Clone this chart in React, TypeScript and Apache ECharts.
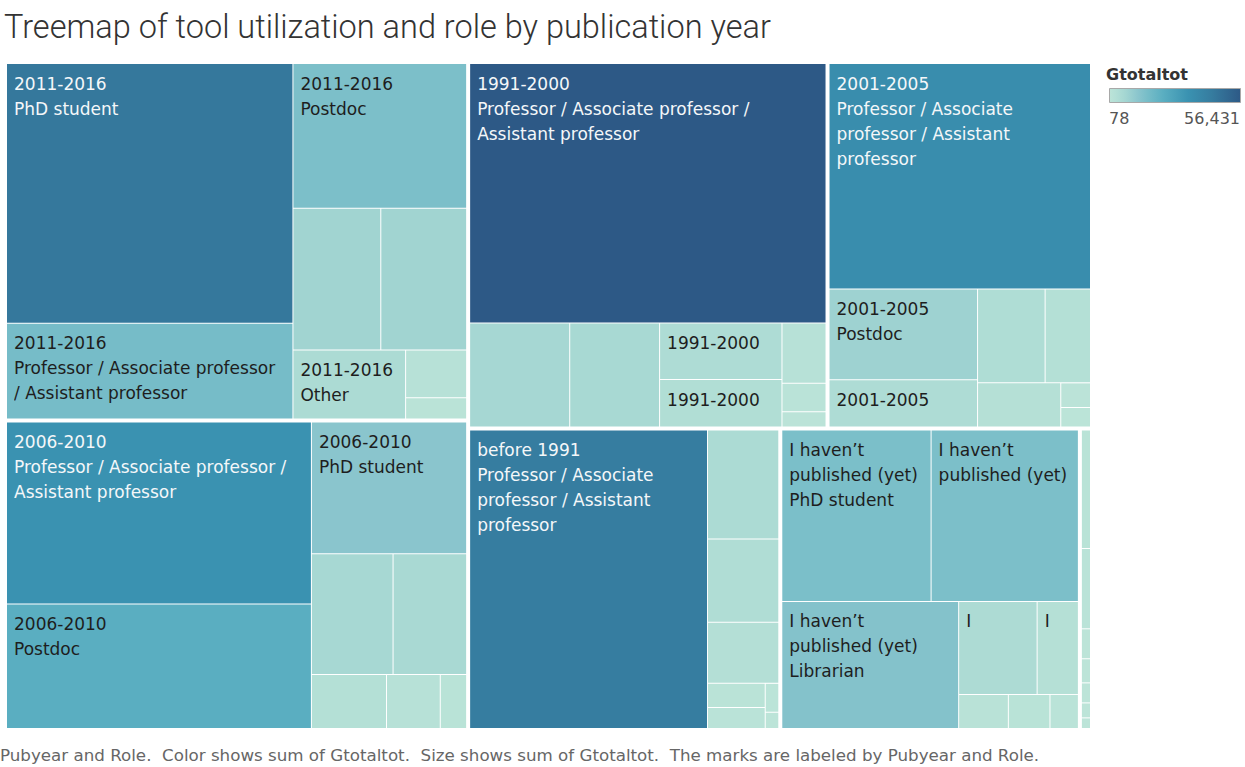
import React, { useEffect, useRef } from 'react';
import * as echarts from 'echarts';

// ---- Data ----
const pubyears = ['2011-2016', '2006-2010', '1991-2000', '2001-2005', 'before 1991', 'I haven’t published (yet)', 'Other years'];

const roles2011 = ['PhD student', 'Professor / Associate professor / Assistant professor', 'Postdoc', 'Librarian', 'Master student', 'Other', 'Industry', 'Bachelor student'];
const values2011 = [45329, 16691, 15305, 7588, 7414, 4738, 1773, 793];
const labels2011 = ['2011-2016\nPhD student', '2011-2016\nProfessor / Associate professor\n/ Assistant professor', '2011-2016\nPostdoc', '', '', '2011-2016\nOther', '', ''];

const roles2006 = ['Professor / Associate professor / Assistant professor', 'Postdoc', 'PhD student', 'Librarian', 'Other', 'Industry', 'Master student', 'Publisher'];
const values2006 = [33817, 23167, 12465, 6014, 5420, 2472, 1770, 868];
const labels2006 = ['2006-2010\nProfessor / Associate professor /\nAssistant professor', '2006-2010\nPostdoc', '2006-2010\nPhD student', '', '', '', '', ''];

const roles1991 = ['Professor / Associate professor / Assistant professor', 'Librarian', 'Other', 'Postdoc', 'Industry', 'Publisher', 'PhD student', 'Funder'];
const values1991 = [56431, 6346, 5699, 4219, 3541, 1616, 767, 411];
const labels1991 = ['1991-2000\nProfessor / Associate professor /\nAssistant professor', '', '', '1991-2000', '1991-2000', '', '', ''];

const roles2001 = ['Professor / Associate professor / Assistant professor', 'Postdoc', 'Librarian', 'Other', 'Industry', 'PhD student', 'Publisher', 'Funder'];
const values2001 = [36080, 8238, 4302, 3880, 2606, 2247, 448, 355];
const labels2001 = ['2001-2005\nProfessor / Associate\nprofessor / Assistant\nprofessor', '2001-2005\nPostdoc', '2001-2005', '', '', '', '', ''];

const rolesB1991 = ['Professor / Associate professor / Assistant professor', 'Librarian', 'Other', 'Industry', 'Postdoc', 'Publisher', 'Funder', 'PhD student'];
const valuesB1991 = [43450, 4750, 3640, 2660, 850, 745, 240, 135];
const labelsB1991 = ['before 1991\nProfessor / Associate\nprofessor / Assistant\nprofessor', '', '', '', '', '', '', ''];

const rolesNone = ['PhD student', 'Master student', 'Librarian', 'Industry', 'Other', 'Bachelor student', 'Publisher', 'Funder'];
const valuesNone = [15667, 15455, 13760, 4468, 2349, 1037, 868, 593];
const labelsNone = ['I haven’t\npublished (yet)\nPhD student', 'I haven’t\npublished (yet)', 'I haven’t\npublished (yet)\nLibrarian', 'I', 'I', '', '', ''];

const rolesOther = ['PhD student', 'Professor / Associate professor / Assistant professor', 'Postdoc', 'Librarian', 'Other', 'Master student', 'Industry'];
const valuesOther = [870, 590, 220, 177, 147, 110, 78];
const labelsOther = ['', '', '', '', '', '', ''];

const rolesByYear = [roles2011, roles2006, roles1991, roles2001, rolesB1991, rolesNone, rolesOther];
const valuesByYear = [values2011, values2006, values1991, values2001, valuesB1991, valuesNone, valuesOther];
const labelsByYear = [labels2011, labels2006, labels1991, labels2001, labelsB1991, labelsNone, labelsOther];

const legendTitle = 'Gtotaltot';
const legendMin = 78;
const legendMax = 56431;
const chartTitle = 'Treemap of tool utilization and role by publication year';
const footerText = 'Pubyear and Role.  Color shows sum of Gtotaltot.  Size shows sum of Gtotaltot.  The marks are labeled by Pubyear and Role.';

// ---- Colour scale ----
const colorStops: [number, string][] = [
  [0, '#bce4d8'],
  [0.05, '#b3dfd6'],
  [0.12, '#a4d6d2'],
  [0.22, '#8ac5cd'],
  [0.29, '#77bdc8'],
  [0.41, '#5aaec1'],
  [0.6, '#3a92b1'],
  [0.78, '#367c9f'],
  [1, '#2d5986'],
];

function hexToRgb(h: string) {
  const n = parseInt(h.slice(1), 16);
  return [(n >> 16) & 255, (n >> 8) & 255, n & 255];
}
function colorAt(t: number) {
  t = Math.max(0, Math.min(1, t));
  for (let i = 1; i < colorStops.length; i++) {
    const [t1, c1] = colorStops[i];
    const [t0, c0] = colorStops[i - 1];
    if (t <= t1) {
      const f = (t - t0) / (t1 - t0);
      const a = hexToRgb(c0), b = hexToRgb(c1);
      const r = a.map((v, k) => Math.round(v + (b[k] - v) * f));
      return `rgb(${r[0]},${r[1]},${r[2]})`;
    }
  }
  return colorStops[colorStops.length - 1][1];
}

const LABEL_FONT = '"DejaVu Sans", sans-serif';

export default function App() {
  const ref = useRef<HTMLDivElement>(null);
  useEffect(() => {
    if (!ref.current) return;
    const chart = echarts.init(ref.current, undefined, { renderer: 'svg' });

    const data = pubyears.map((y, gi) => ({
      name: y,
      children: rolesByYear[gi].map((r, i) => {
        const v = valuesByYear[gi][i];
        const t = (v - legendMin) / (legendMax - legendMin);
        const lbl = labelsByYear[gi][i];
        return {
          name: r,
          value: v,
          itemStyle: { color: colorAt(t) },
          label: lbl
            ? { show: true, formatter: lbl, color: t > 0.5 ? '#f4f7f9' : '#1e1e1e' }
            : { show: false },
        };
      }),
    }));

    const gradStops = colorStops.map(([o, c]) => ({ offset: o, color: c }));

    chart.setOption({
      animation: false,
      backgroundColor: '#ffffff',
      graphic: [
        {
          type: 'text',
          left: 4,
          top: 10,
          style: {
            text: chartTitle,
            font: '300 32.5px Roboto, sans-serif',
            fill: '#333333',
          },
        },
        {
          type: 'text',
          left: 0,
          top: 746,
          style: {
            text: footerText,
            font: '16.7px "DejaVu Sans", sans-serif',
            fill: '#666666',
          },
        },
        {
          type: 'text',
          left: 1106,
          top: 66,
          style: {
            text: legendTitle,
            font: 'bold 16px "DejaVu Sans", sans-serif',
            fill: '#333333',
          },
        },
        {
          type: 'rect',
          shape: { x: 1109.5, y: 88.5, width: 131, height: 14 },
          style: {
            fill: new echarts.graphic.LinearGradient(0, 0, 1, 0, gradStops),
            stroke: '#a8a8a8',
            lineWidth: 1,
          },
        },
        {
          type: 'text',
          left: 1109,
          top: 110,
          style: {
            text: legendMin.toLocaleString('en-US'),
            font: '16px "DejaVu Sans", sans-serif',
            fill: '#555555',
          },
        },
        {
          type: 'text',
          right: 5,
          top: 110,
          style: {
            text: legendMax.toLocaleString('en-US'),
            font: '16px "DejaVu Sans", sans-serif',
            fill: '#555555',
            align: 'right',
          },
        },
      ],
      series: [
        {
          type: 'treemap',
          left: 7,
          top: 64,
          width: 1083,
          height: 664,
          roam: false,
          nodeClick: false,
          breadcrumb: { show: false },
          sort: 'desc',
          squareRatio: 0.5 * (1 + Math.sqrt(5)),
          label: {
            show: true,
            position: 'insideTopLeft',
            distance: 0,
            padding: [7, 0, 0, 7],
            fontFamily: LABEL_FONT,
            fontSize: 17,
            lineHeight: 25,
            overflow: 'none',
          },
          upperLabel: { show: false },
          itemStyle: { borderWidth: 0, gapWidth: 0, borderColor: '#ffffff' },
          levels: [
            { itemStyle: { borderWidth: 0, gapWidth: 4, borderColor: '#ffffff', color: '#ffffff' } },
            { itemStyle: { borderWidth: 0, gapWidth: 1, borderColor: '#ffffff', color: '#ffffff' } },
            { itemStyle: { borderWidth: 0, gapWidth: 0 } },
          ],
          emphasis: { disabled: true },
          data,
        },
      ],
    });
    return () => chart.dispose();
  }, []);

  return (
    <div
      ref={ref}
      style={{ position: 'absolute', left: 0, top: 0, width: 1245, height: 767 }}
    />
  );
}
